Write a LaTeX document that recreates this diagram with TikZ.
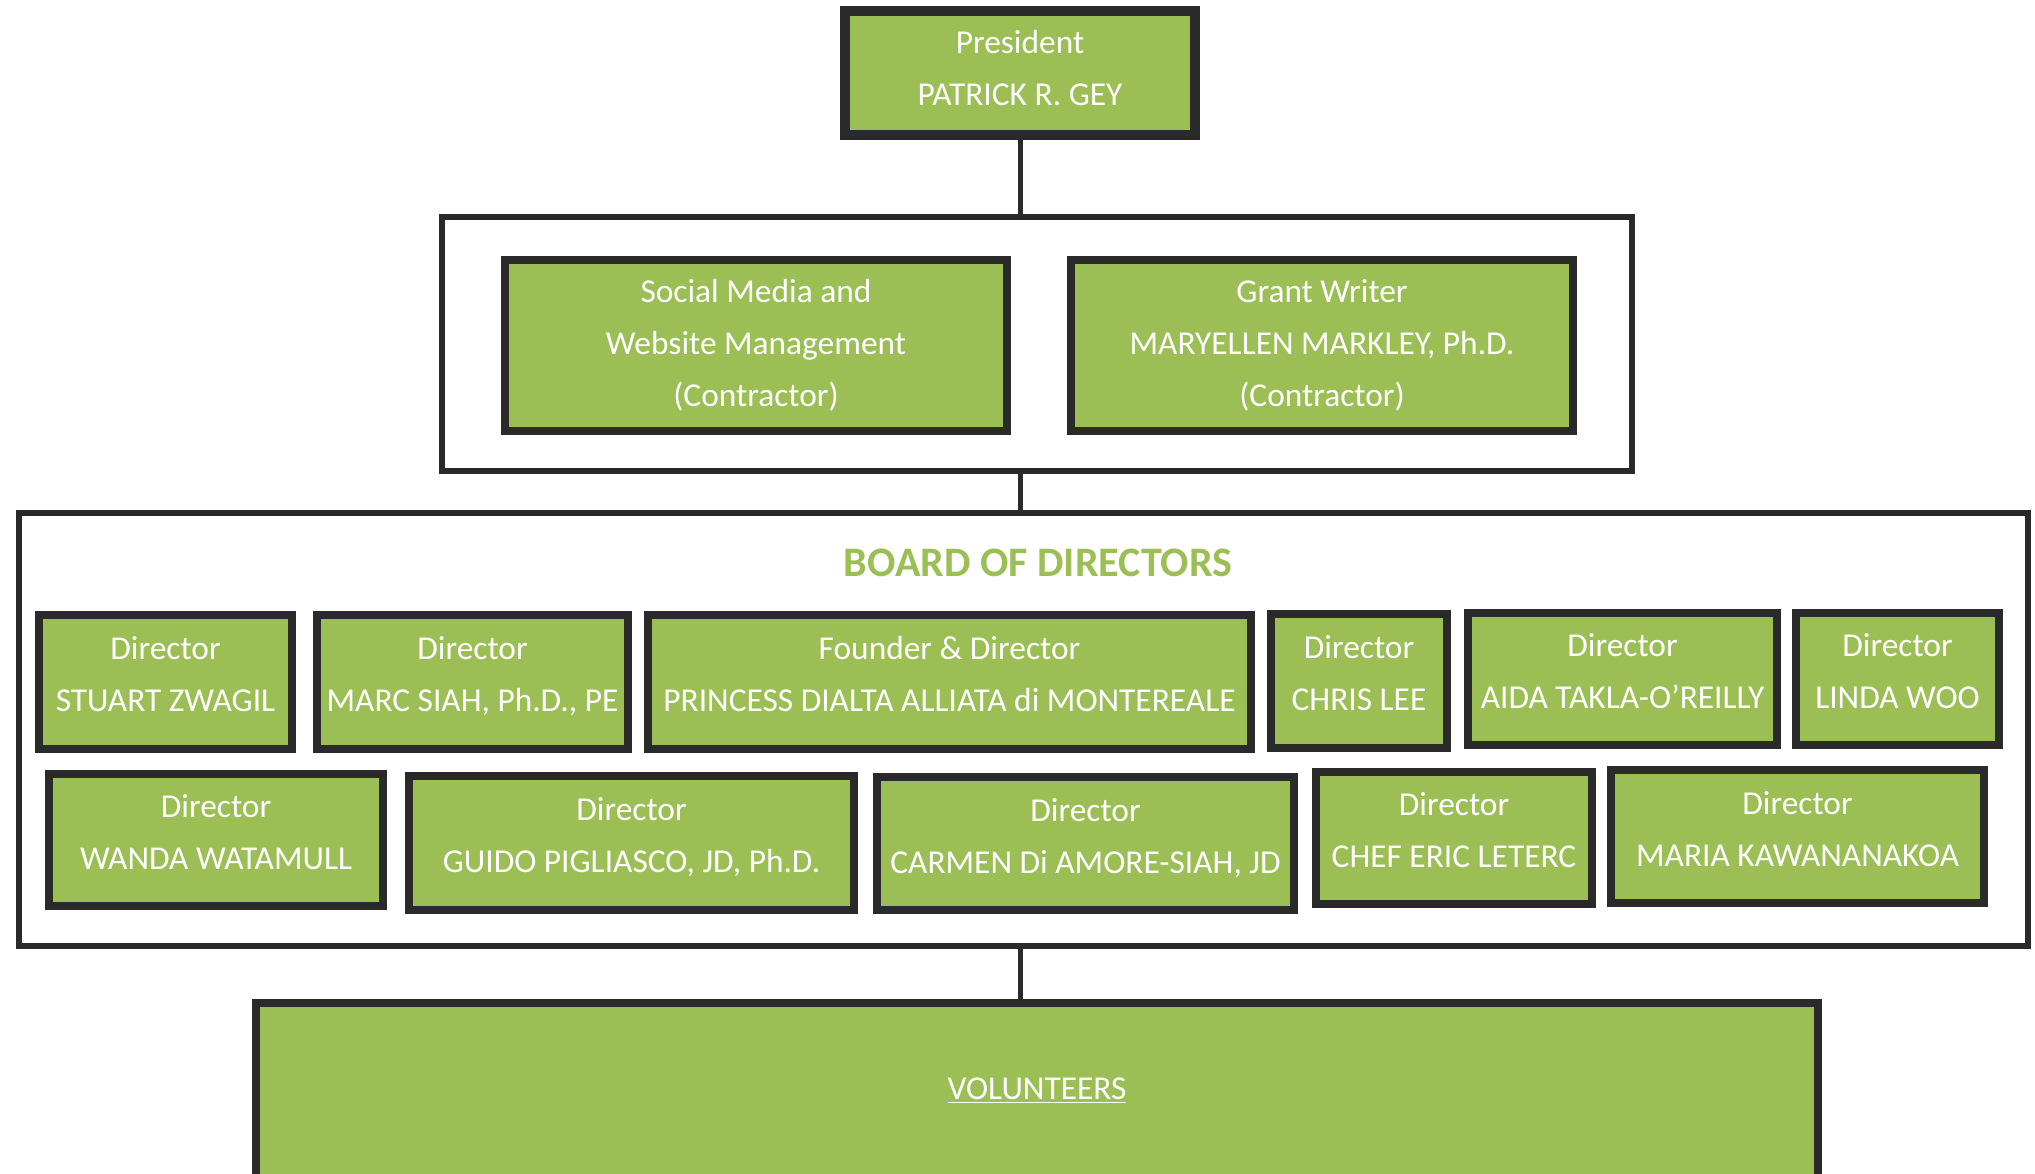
\documentclass[tikz,border=0pt]{standalone}
\usepackage{fontspec}
\setmainfont{Carlito}
\usetikzlibrary{positioning}
\definecolor{verde}{HTML}{9BBF55}
\definecolor{borde}{HTML}{2A2A2A}

\begin{document}
\begin{tikzpicture}[x=0.5pt,y=-0.5pt,thick,
  main node/.style={rectangle,draw=borde,fill=verde,line width=4pt,text=white,align=center,inner sep=0pt,font=\fontsize{16.7}{26}\selectfont},
  frame node/.style={rectangle,draw=borde,line width=3pt,inner sep=0pt},
  link/.style={draw=borde,line width=2.5pt}]
\useasboundingbox (0,0) rectangle (2035,1173);

% Marcos
\node[frame node,minimum width=595pt,minimum height=127pt] (cont) at (1037,344) {};
\node[frame node,minimum width=1004.5pt,minimum height=216.5pt] (board) at (1023.5,729.5) {};

% Presidente y contratistas
\node[main node,line width=5pt,text depth=5pt,minimum width=175pt,minimum height=62pt] (pres) at (1020,73) {President\\PATRICK R. GEY};
\node[main node,minimum width=251pt,minimum height=85.5pt] (social) at (756,345.5) {Social Media and\\Website Management\\(Contractor)};
\node[main node,minimum width=251pt,minimum height=85.5pt] (grant) at (1322,345.5) {Grant Writer\\MARYELLEN MARKLEY, Ph.D.\\(Contractor)};

% Junta directiva
\node[text=verde,font=\fontsize{21}{24}\selectfont\bfseries] (title) at (1038,563) {BOARD OF DIRECTORS};
\begin{scope}[every node/.append style={text depth=7.8pt}]
\node[main node,minimum width=126.5pt,minimum height=67pt] (d1) at (165.5,682) {Director\\STUART ZWAGIL};
\node[main node,minimum width=155.5pt,minimum height=67pt] (d2) at (472.5,682) {Director\\MARC SIAH, Ph.D., PE};
\node[main node,minimum width=301.5pt,minimum height=67pt] (d3) at (949.5,682) {Founder \& Director\\PRINCESS DIALTA ALLIATA di MONTEREALE};
\node[main node,minimum width=88pt,minimum height=67pt] (d4) at (1359,681) {Director\\CHRIS LEE};
\node[main node,minimum width=154.5pt,minimum height=66pt] (d5) at (1622.5,679) {Director\\AIDA TAKLA-O’REILLY};
\node[main node,minimum width=101.5pt,minimum height=66pt] (d6) at (1897.5,679) {Director\\LINDA WOO};
\node[main node,minimum width=167pt,minimum height=66pt] (d7) at (216,840) {Director\\WANDA WATAMULL};
\node[main node,minimum width=222.5pt,minimum height=67pt] (d8) at (631.5,843) {Director\\GUIDO PIGLIASCO, JD, Ph.D.};
\node[main node,minimum width=208.5pt,minimum height=66.5pt] (d9) at (1085.5,843.5) {Director\\CARMEN Di AMORE-SIAH, JD};
\node[main node,minimum width=138pt,minimum height=66pt] (d10) at (1454,838) {Director\\CHEF ERIC LETERC};
\node[main node,minimum width=186.5pt,minimum height=66.5pt] (d11) at (1797.5,836.5) {Director\\MARIA KAWANANAKOA};
\end{scope}

% Voluntarios
\node[main node,minimum width=781pt,minimum height=88pt] (vol) at (1037,1091) {\underline{VOLUNTEERS}};

% Conexiones
\path[link]
  (pres.south) -- (pres.south |- cont.north)
  (cont.south -| pres.south) -- (pres.south |- board.north)
  (board.south -| pres.south) -- (pres.south |- vol.north);
\end{tikzpicture}
\end{document}
